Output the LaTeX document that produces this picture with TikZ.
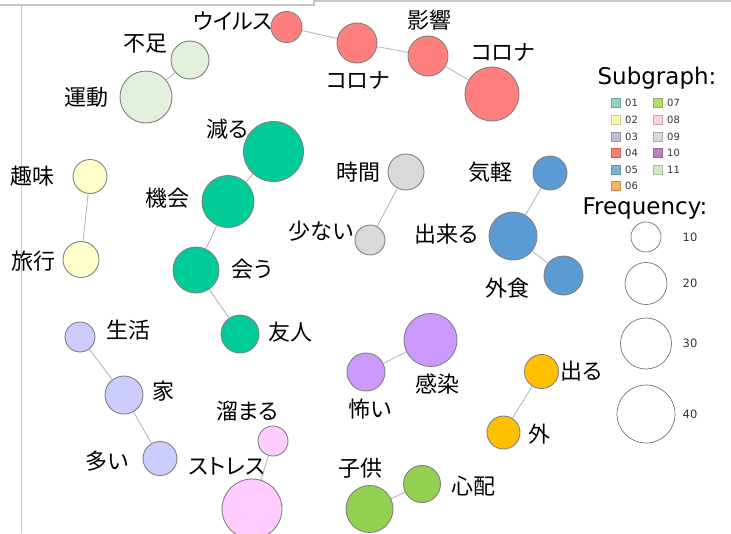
\documentclass[tikz,border=0pt]{standalone}
\usepackage{fontspec}
\setmainfont{DejaVu Sans}
\newfontfamily\jp[RawFeature=+palt]{Noto Sans CJK JP}
\definecolor{cteal}{HTML}{00CC99}
\definecolor{cyel}{HTML}{FFFFCC}
\definecolor{clav}{HTML}{CCCCFF}
\definecolor{cred}{HTML}{FF7F7F}
\definecolor{cblue}{HTML}{5B9BD5}
\definecolor{corange}{HTML}{FFC000}
\definecolor{cgreen}{HTML}{92D050}
\definecolor{cpink}{HTML}{FFCCFF}
\definecolor{cgray}{HTML}{D9D9D9}
\definecolor{cpurple}{HTML}{CC99FF}
\definecolor{clgreen}{HTML}{E2EFDA}
\definecolor{sA}{HTML}{8DD3C7}
\definecolor{sB}{HTML}{FFFFB3}
\definecolor{sC}{HTML}{BEBADA}
\definecolor{sD}{HTML}{FB8072}
\definecolor{sE}{HTML}{80B1D3}
\definecolor{sF}{HTML}{FDB462}
\definecolor{sG}{HTML}{B3DE69}
\definecolor{sH}{HTML}{FCCDE5}
\definecolor{sI}{HTML}{D9D9D9}
\definecolor{sJ}{HTML}{BC80BD}
\definecolor{sK}{HTML}{CCEBC5}
\tikzset{
  bub/.style={circle, draw=black!50, line width=0.9pt, inner sep=0pt, minimum size=#1},
  lbl/.style={inner sep=0pt, font=\jp\fontsize{22}{24}\selectfont},
  edge/.style={draw=black!30, line width=0.8pt},
  sw/.style={draw=#1!80!black, fill=#1, minimum size=9pt, inner sep=0pt, line width=0.5pt},
  swt/.style={inner sep=0pt, anchor=west, font=\fontsize{10}{11}\selectfont, text=black!80},
  frq/.style={circle, draw=black!55, line width=0.7pt, inner sep=0pt, minimum size=#1},
  frt/.style={inner sep=0pt, font=\fontsize{11.5}{12}\selectfont, text=black!80},
  ttl/.style={inner sep=0pt, font=\fontsize{23}{25}\selectfont},
  frame/.style={draw=black!22, line width=#1}
}
\begin{document}
\begin{tikzpicture}[x=1pt,y=-1pt]
\useasboundingbox (0,0) rectangle (731,533);
\fill[white] (0,0) rectangle (731,533);
% frame lines
\draw[frame=1.2pt] (21.5,5) -- (21.5,533);
\draw[frame=2pt] (0,4.5) -- (314,4.5) -- (314,0);
\draw[frame=1.2pt] (314,1) -- (731,1);

% group 04 red
\node[bub=31pt, fill=cred] (uir) at (286.5,27) {};
\node[bub=40pt, fill=cred] (kor1) at (357,43) {};
\node[bub=40pt, fill=cred] (eik) at (428,56) {};
\node[bub=54pt, fill=cred] (kor2) at (492,94) {};
\node[lbl] (luir) at (233,21) {ウイルス};
\node[lbl] (lkor1) at (358,80) {コロナ};
\node[lbl] (leik) at (429,20) {影響};
\node[lbl] (lkor2) at (503,52) {コロナ};
\draw[edge] (uir) -- (kor1);
\draw[edge] (kor1) -- (eik);
\draw[edge] (eik) -- (kor2);

% group 11 light green
\node[bub=38pt, fill=clgreen] (fus) at (190,60) {};
\node[bub=52pt, fill=clgreen] (und) at (146,97) {};
\node[lbl] (lfus) at (145,44) {不足};
\node[lbl] (lund) at (86,97) {運動};
\draw[edge] (fus) -- (und);

% group 01 teal
\node[bub=60pt, fill=cteal] (her) at (273.5,151.5) {};
\node[bub=52pt, fill=cteal] (kik) at (228,201.5) {};
\node[bub=46pt, fill=cteal] (au) at (196,270) {};
\node[bub=38pt, fill=cteal] (yuj) at (240,334) {};
\node[lbl] (lher) at (227,129) {減る};
\node[lbl] (lkik) at (167,198) {機会};
\node[lbl] (lau) at (252,269) {会う};
\node[lbl] (lyuj) at (290,332) {友人};
\draw[edge] (her) -- (kik);
\draw[edge] (kik) -- (au);
\draw[edge] (au) -- (yuj);

% group 02 yellow
\node[bub=34pt, fill=cyel] (shu) at (90,176.5) {};
\node[bub=36pt, fill=cyel] (ryo) at (81,259.5) {};
\node[lbl] (lshu) at (32,176) {趣味};
\node[lbl] (lryo) at (34,261) {旅行};
\draw[edge] (shu) -- (ryo);

% group 09 gray
\node[bub=36pt, fill=cgray] (jik) at (406,172) {};
\node[bub=30pt, fill=cgray] (suk) at (370,240) {};
\node[lbl] (ljik) at (358,172) {時間};
\node[lbl] (lsuk) at (321,231) {少ない};
\draw[edge] (jik) -- (suk);

% group 05 blue
\node[bub=34pt, fill=cblue] (kig) at (550,173) {};
\node[bub=48pt, fill=cblue] (dek) at (513,236) {};
\node[bub=39pt, fill=cblue] (gai) at (563.5,275.5) {};
\node[lbl] (lkig) at (490,172) {気軽};
\node[lbl] (ldek) at (446,234) {出来る};
\node[lbl] (lgai) at (507,288) {外食};
\draw[edge] (kig) -- (dek);
\draw[edge] (dek) -- (gai);

% group 03 lavender
\node[bub=30pt, fill=clav] (sei) at (80,337) {};
\node[bub=38pt, fill=clav] (ie) at (124,395) {};
\node[bub=34pt, fill=clav] (ooi) at (160,458.5) {};
\node[lbl] (lsei) at (128,330) {生活};
\node[lbl] (lie) at (163,391) {家};
\node[lbl] (looi) at (107,461) {多い};
\draw[edge] (sei) -- (ie);
\draw[edge] (ie) -- (ooi);

% group 10 purple
\node[bub=53pt, fill=cpurple] (kan) at (430.5,340) {};
\node[bub=38pt, fill=cpurple] (kow) at (366,372) {};
\node[lbl] (lkan) at (437,384) {感染};
\node[lbl] (lkow) at (370,409) {怖い};
\draw[edge] (kan) -- (kow);

% group 06 orange
\node[bub=34pt, fill=corange] (der) at (541.5,371.5) {};
\node[bub=33pt, fill=corange] (soto) at (503.5,432.5) {};
\node[lbl] (lder) at (581,371) {出る};
\node[lbl] (lsoto) at (539,434) {外};
\draw[edge] (der) -- (soto);

% group 08 pink
\node[bub=30pt, fill=cpink] (tam) at (273,441) {};
\node[bub=60pt, fill=cpink] (str) at (252,509) {};
\node[lbl] (ltam) at (247,411) {溜まる};
\node[lbl] (lstr) at (227,466) {ストレス};
\draw[edge] (tam) -- (str);

% group 07 green
\node[bub=47pt, fill=cgreen] (kod) at (369.5,509) {};
\node[bub=37pt, fill=cgreen] (shi) at (422,484) {};
\node[lbl] (lkod) at (360,468) {子供};
\node[lbl] (lshi) at (473,486) {心配};
\draw[edge] (kod) -- (shi);

% legend: subgraph
\node[ttl] (tsub) at (657,78) {Subgraph:};
\node[sw=sA] (q01) at (616,102.5) {};
\node[swt] (t01) at (625,102.5) {01};
\node[sw=sB] (q02) at (616,119.5) {};
\node[swt] (t02) at (625,119.5) {02};
\node[sw=sC] (q03) at (616,136.5) {};
\node[swt] (t03) at (625,136.5) {03};
\node[sw=sD] (q04) at (616,153) {};
\node[swt] (t04) at (625,153) {04};
\node[sw=sE] (q05) at (616,169.5) {};
\node[swt] (t05) at (625,169.5) {05};
\node[sw=sF] (q06) at (616,186) {};
\node[swt] (t06) at (625,186) {06};
\node[sw=sG] (q07) at (658,102.5) {};
\node[swt] (t07) at (667,102.5) {07};
\node[sw=sH] (q08) at (658,119.5) {};
\node[swt] (t08) at (667,119.5) {08};
\node[sw=sI] (q09) at (658,136.5) {};
\node[swt] (t09) at (667,136.5) {09};
\node[sw=sJ] (q10) at (658,153) {};
\node[swt] (t10) at (667,153) {10};
\node[sw=sK] (q11) at (658,169.5) {};
\node[swt] (t11) at (667,169.5) {11};

% legend: frequency
\node[ttl] (tfrq) at (645,209) {Frequency:};
\node[frq=30pt] (f10) at (646,237) {};
\node[frq=42pt] (f20) at (646,283.5) {};
\node[frq=51pt] (f30) at (646,343.5) {};
\node[frq=58pt] (f40) at (646,414) {};
\node[frt] (tf10) at (690,237) {10};
\node[frt] (tf20) at (690,283.5) {20};
\node[frt] (tf30) at (690,343.5) {30};
\node[frt] (tf40) at (690,414) {40};
\end{tikzpicture}
\end{document}
